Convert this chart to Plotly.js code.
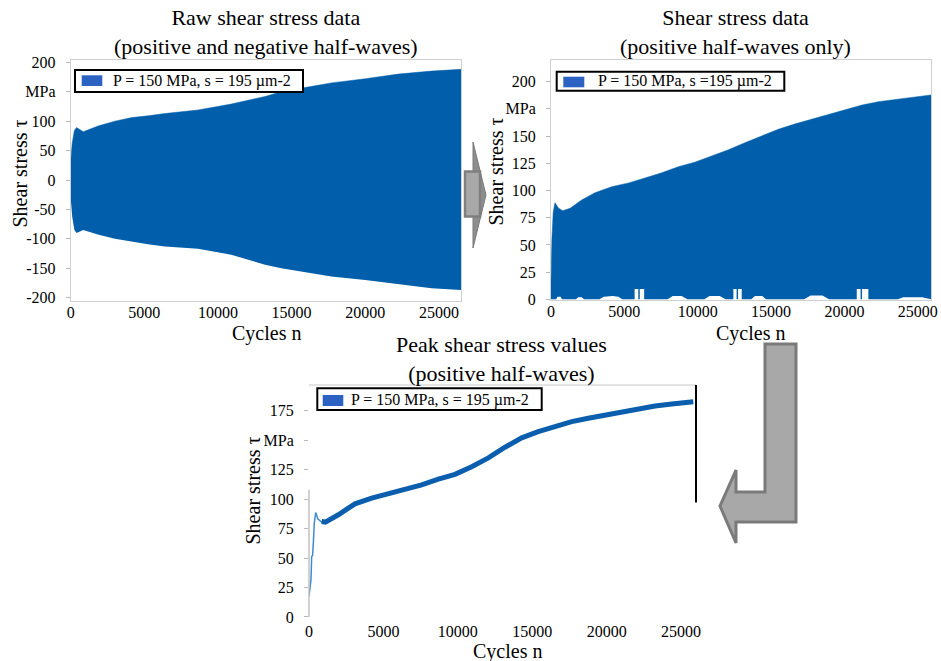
<!DOCTYPE html>
<html>
<head>
<meta charset="utf-8">
<script src="https://cdn.plot.ly/plotly-3.0.1.min.js"></script>
<style>html,body{margin:0;padding:0;background:#fff;}#chart{width:941px;height:661px;}</style>
</head>
<body>
<div id="chart"></div>
<script>
// ---------- DATA ----------
// Panel 1: raw signal envelope (positive and negative half-waves)
const rawCycles = [0, 100, 250, 400, 850, 1900, 3000, 4150, 5250, 6400, 8650, 10900, 13200, 14300, 15900, 17700, 20000, 22250, 24500, 26500];
const rawUpper  = [30, 62, 84, 89, 82, 92, 100, 106, 109, 113, 119, 129, 142, 150, 157, 165, 172, 180, 185, 188];
const rawLower  = [-30, -62, -85, -90, -85, -93, -100, -105, -109, -113, -117, -127, -144, -150, -157, -164, -170, -177, -184, -187];

// Panel 2: positive half-waves only (upper peaks and lower troughs)
const posCycles = [0, 60, 150, 272, 500, 800, 1300, 2090, 3000, 4140, 5300, 6410, 7500, 8680, 9800, 10950, 12100, 13220, 14300, 15490, 16600, 17770, 18900, 20040, 21200, 22310, 23400, 24590, 25900];
const posUpper  = [15, 55, 80, 88.8, 84, 81.4, 83.6, 91.3, 98, 103.5, 107, 111.2, 116, 121.9, 126, 131.7, 137.5, 143.9, 150, 156.2, 161, 165.4, 170, 174.6, 178.5, 181.6, 183.5, 185.3, 187.8];
const troughCycles = [0, 350, 450, 650, 750, 1700, 1850, 2100, 2250, 3300, 3600, 4200, 4600, 4850,
  5700, 5700, 5950, 5950, 6050, 6050, 6350, 6350, 7950, 8300, 8900, 9300, 10450, 10800, 11500, 11900,
  12430, 12430, 12650, 12650, 12750, 12750, 13000, 13000, 13650, 13900, 14400, 14650, 17250, 17700, 18500, 18950,
  20840, 20840, 21100, 21100, 21200, 21200, 21630, 21630, 23650, 24000, 25300, 25750, 25900];
const troughValues = [0, 0, 2.5, 2.5, 0, 0, 2, 2, 0, 0, 2.5, 3, 2.5, 0,
  0, 9.5, 9.5, 0, 0, 9.5, 9.5, 0, 0, 3, 3, 0, 0, 3, 3, 0,
  0, 9.5, 9.5, 0, 0, 9.5, 9.5, 0, 0, 3, 3, 0, 0, 3.5, 3.5, 0,
  0, 9.5, 9.5, 0, 0, 9.5, 9.5, 0, 0, 2, 2, 0, 0];

// Panel 3: peak values of positive half-waves
const riseCycles = [0, 60, 134, 180, 240, 300, 356, 450, 600, 850, 1075];
const riseValues = [17.5, 25, 31.6, 51.3, 52, 65, 79.6, 88.6, 83, 80.5, 80.4];
const peakCycles = [850, 1100, 1970, 3090, 4210, 5330, 6450, 7570, 8690, 9810, 10930, 12050, 13170, 14290, 15400, 16530, 17650, 18760, 19890, 21010, 22120, 23250, 24370, 25820];
const peakValues = [81, 80.5, 86.7, 96, 100.8, 104.2, 108.4, 112, 116.9, 121, 127.5, 135, 144, 152, 157.2, 162, 165.7, 168.6, 171.4, 174.2, 177, 179, 180.7, 182.5];

// Ticks
const xTickVals = [0, 5000, 10000, 15000, 20000, 25000];
const xTickText = ['0', '5000', '10000', '15000', '20000', '25000'];
const y1TickVals = [-200, -150, -100, -50, 0, 50, 100, 150, 200];
const y1TickText = ['-200', '-150', '-100', '-50', '0', '50', '100', 'MPa', '200'];
const y2TickVals = [0, 25, 50, 75, 100, 125, 150, 175, 200];
const y2TickText = ['0', '25', '50', '75', '100', '125', '150', 'MPa', '200'];
const y3TickVals = [0, 25, 50, 75, 100, 125, 150, 175];
const y3TickText = ['0', '25', '50', '75', '100', '125', 'MPa', '175'];

const titles = ['Raw shear stress data<br>(positive and negative half-waves)',
                'Shear stress data<br>(positive half-waves only)',
                'Peak shear stress values<br>(positive half-waves)'];
const legendTexts = ['P = 150 MPa, s = 195 µm-2', 'P = 150 MPa, s =195 µm-2', 'P = 150 MPa, s = 195 µm-2'];
const xTitle = 'Cycles n';
const yTitle = 'Shear stress τ';

// ---------- STYLE / GEOMETRY ----------
const W = 941, H = 661;
const px = x => x / W;
const py = y => 1 - y / H;
const FONT = '"Liberation Serif", "Times New Roman", serif';
const BLUE = '#005EAB';
const SWATCH = '#2C63C3';

const traces = [
  {x: rawCycles, y: rawLower, xaxis: 'x', yaxis: 'y', mode: 'lines', line: {width: 0, color: BLUE}, hoverinfo: 'skip'},
  {x: rawCycles, y: rawUpper, xaxis: 'x', yaxis: 'y', mode: 'lines', fill: 'tonexty', fillcolor: BLUE, line: {width: 0.5, color: BLUE}, name: legendTexts[0]},
  {x: troughCycles, y: troughValues, xaxis: 'x2', yaxis: 'y2', mode: 'lines', line: {width: 0, color: BLUE}, hoverinfo: 'skip'},
  {x: posCycles, y: posUpper, xaxis: 'x2', yaxis: 'y2', mode: 'lines', fill: 'tonexty', fillcolor: BLUE, line: {width: 0.5, color: BLUE}, name: legendTexts[1]},
  {x: riseCycles, y: riseValues, xaxis: 'x3', yaxis: 'y3', mode: 'lines', line: {width: 1.5, color: '#3F8BD0'}},
  {x: peakCycles, y: peakValues, xaxis: 'x3', yaxis: 'y3', mode: 'lines', line: {width: 5, color: '#0A5EAD'}, name: legendTexts[2]}
];

const tickFont = {family: FONT, size: 16, color: '#000'};
function xax(domain, range, anchor, line, standoff) {
  return {domain, range, anchor, showgrid: false, zeroline: false, showline: line, mirror: line, linecolor: '#cfcfcf', linewidth: 1,
          ticks: '', tickvals: xTickVals, ticktext: xTickText, tickfont: tickFont, ticklabelstandoff: standoff, fixedrange: true};
}
function yax(domain, range, anchor, vals, text, line) {
  return {domain, range, anchor, showgrid: false, zeroline: false, showline: line, mirror: line, linecolor: '#cfcfcf', linewidth: 1,
          ticks: 'outside', ticklen: 4, tickcolor: '#b8b8b8', tickwidth: 1, tickvals: vals, ticktext: text, tickfont: tickFont,
          ticklabelstandoff: 7, fixedrange: true};
}

const annotations = [];
function ann(text, x, y, opts) {
  annotations.push(Object.assign({text, x: px(x), y: py(y), xref: 'paper', yref: 'paper', showarrow: false,
    xanchor: 'center', yanchor: 'middle', font: {family: FONT, size: 20, color: '#000'}}, opts || {}));
}
// titles
ann(titles[0], 265.5, 32, {font: {family: FONT, size: 22, color: '#000'}});
ann(titles[1], 735, 32, {font: {family: FONT, size: 22, color: '#000'}});
ann(titles[2], 502, 359, {font: {family: FONT, size: 22, color: '#000'}});
// axis titles
ann(xTitle, 266, 333); ann(xTitle, 750, 333); ann(xTitle, 507, 651);
ann(yTitle, 19.5, 174, {textangle: -90}); ann(yTitle, 495.5, 172, {textangle: -90}); ann(yTitle, 252.5, 491, {textangle: -90});
// legend texts
const legFont = {family: FONT, size: 16, color: '#000'};
ann(legendTexts[0], 110.5, 81, {xanchor: 'left', font: legFont});
ann(legendTexts[1], 595.5, 81.5, {xanchor: 'left', font: legFont});
ann(legendTexts[2], 349, 399.5, {xanchor: 'left', font: legFont});

const shapes = [];
function rect(x0, y0, x1, y1, fill, lc, lw) {
  shapes.push({type: 'rect', xref: 'paper', yref: 'paper', x0: px(x0), x1: px(x1), y0: py(y1), y1: py(y0),
    fillcolor: fill, line: {color: lc, width: lw}, layer: 'above'});
}
function poly(pts, fill, lc, lw) {
  const d = pts.map((p, i) => (i ? 'L' : 'M') + px(p[0]).toFixed(5) + ',' + py(p[1]).toFixed(5)).join(' ') + ' Z';
  shapes.push({type: 'path', xref: 'paper', yref: 'paper', path: d, fillcolor: fill, line: {color: lc, width: lw}, layer: 'above'});
}
// legend boxes + swatches
rect(75, 70, 303, 92, '#fff', '#000', 2);       rect(81.7, 75.3, 102.3, 86, SWATCH, SWATCH, 0);
rect(556.7, 71.7, 784.3, 90.7, '#fff', '#000', 2); rect(563.3, 76.7, 584.3, 87.3, SWATCH, SWATCH, 0);
rect(317.3, 388.3, 541.7, 410, '#fff', '#000', 2); rect(322.7, 395, 343.3, 406, SWATCH, SWATCH, 0);
// arrows
poly([[473, 142], [486, 195], [473, 248]], '#8e8e8e', '#7a7a7a', 1);
rect(465, 171.5, 480, 216.5, '#a8a8a8', '#7f7f7f', 2.5);
poly([[796, 344], [796, 522], [736, 522], [736, 543], [720, 506], [736, 470], [736, 492], [765, 492], [765, 344]], '#a8a8a8', '#7a7a7a', 3);
// panel 3 frame pieces
shapes.push({type: 'line', xref: 'x3 domain', yref: 'y3 domain', x0: 0, x1: 1, y0: 1, y1: 1, line: {color: '#c8c8c8', width: 1}});
shapes.push({type: 'line', xref: 'x3 domain', yref: 'y3', x0: 0, x1: 0, y0: 0, y1: 108, line: {color: '#c0c0c0', width: 1.5}});
shapes.push({type: 'line', xref: 'x3 domain', yref: 'y3 domain', x0: 1, x1: 1, y0: 0.494, y1: 1, line: {color: '#000', width: 2}});

const layout = {
  width: W, height: H, margin: {l: 0, r: 0, t: 0, b: 0}, paper_bgcolor: '#fff', plot_bgcolor: '#fff',
  showlegend: false, font: {family: FONT, color: '#000'},
  xaxis:  xax([px(70.7), px(461)], [0, 26500], 'y', true, -3),
  yaxis:  yax([py(301), py(60)], [-205.6, 203.9], 'x', y1TickVals, y1TickText, true),
  xaxis2: xax([px(551), px(931)], [0, 25900], 'y2', true, -3),
  yaxis2: yax([py(300), py(60)], [-0.6, 219.9], 'x2', y2TickVals, y2TickText, true),
  xaxis3: xax([px(309), px(696)], [0, 26000], 'y3', false, 3),
  yaxis3: yax([py(617.3), py(385)], [-0.3, 196.8], 'x3', y3TickVals, y3TickText, false),
  annotations, shapes
};

Plotly.newPlot('chart', traces, layout, {staticPlot: true, displayModeBar: false});
</script>
</body>
</html>
